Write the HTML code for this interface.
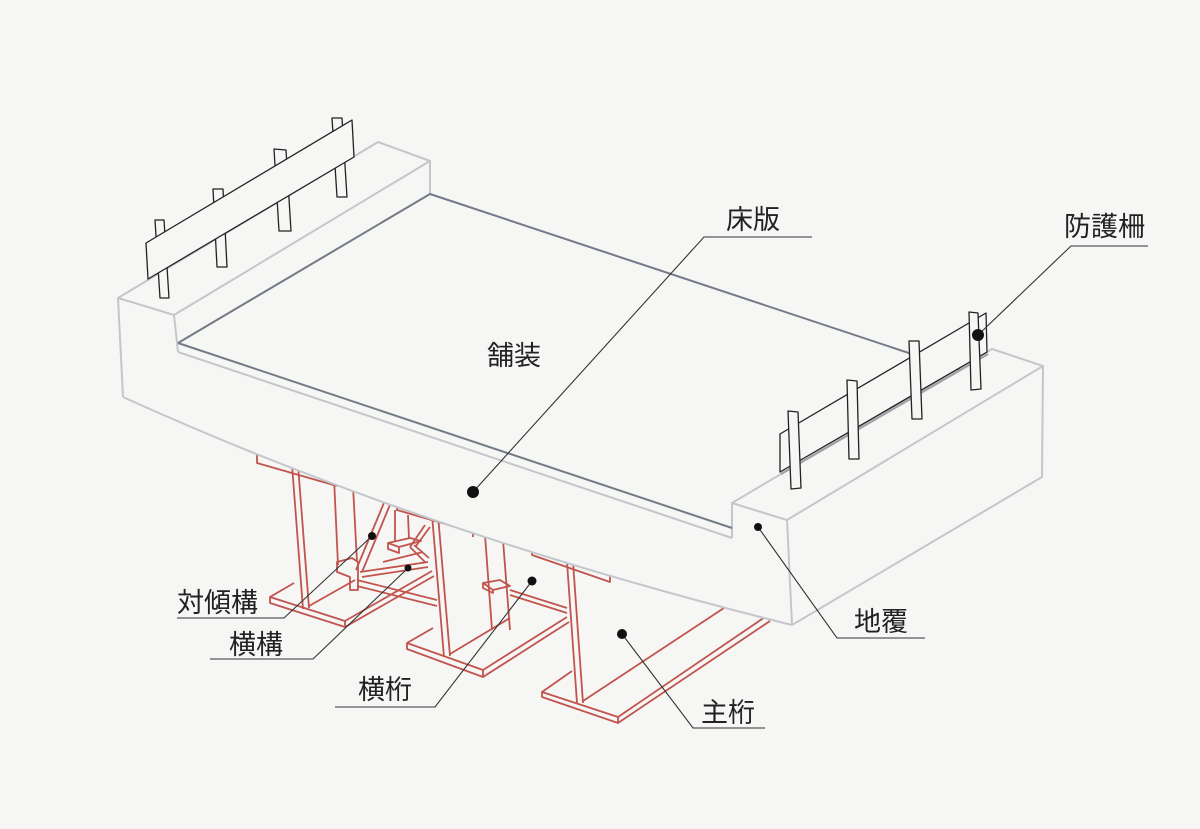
<!DOCTYPE html>
<html>
<head>
<meta charset="utf-8">
<style>
html,body{margin:0;padding:0;background:#f6f6f5;}
svg{display:block;}
text{font-family:"Liberation Sans","Noto Sans CJK JP",sans-serif;font-size:27px;fill:#222;}
</style>
</head>
<body>
<svg width="1200" height="829" viewBox="0 0 1200 829" xmlns="http://www.w3.org/2000/svg">
<rect width="1200" height="829" fill="#f6f6f5"/>

<!-- Red steel girders -->
<g fill="none" stroke="#c2544e" stroke-width="1.8" stroke-linejoin="round">
  <!-- G1 -->
  <path d="M257,452 L257,463 L337,486"/>
  <path d="M292,465 L303,609 M298,465 L309,608"/>
  <path d="M334,478 L338,565 M353,486 L357,562"/>
  <path d="M270,597 L345,621 L345,627 L270,603 Z"/>
  <path d="M270,597 L294,583"/>
  <path d="M345,621 L432,571 M345,627 L434,576"/>
  <path d="M309,606 L355,580"/>
  <path d="M337,562 L352,558 L358,562 L358,590 L350,590 L350,577 L337,572 Z"/>
  <!-- cross frame G1-G2 -->
  <path d="M386,498 L356,570 M392,500 L362,572"/>
  <path d="M357,580 L437,600 M357,586 L437,606"/>
  <path d="M360,572 L428,562 M362,577 L428,567"/>
  <path d="M383,562 L423,552"/>
  <path d="M410,547 L425,562 M414,545 L429,558"/>
  <path d="M395,510 L395,542 M408,515 L409,539"/>
  <path d="M388,543 L410,538 L421,541 L399,547 Z"/>
  <path d="M388,543 L388,549 L399,553 L399,547"/>
  <path d="M425,525 L410,547 M430,527 L416,546"/>
  <!-- G2 -->
  <path d="M397,500 L397,510 L473,532 L473,537"/>
  <path d="M432,515 L444,657 M438,515 L450,656"/>
  <path d="M485,535 L492,630 M503,540 L510,630"/>
  <path d="M483,583 L500,580 L510,586 L493,590 Z"/>
  <path d="M483,583 L483,588 L493,593 L493,590"/>
  <path d="M510,590 L567,608 M510,595 L567,613"/>
  <path d="M407,643 L483,670 L483,677 L407,649 Z"/>
  <path d="M407,643 L433,628"/>
  <path d="M483,670 L567,617 M483,677 L569,622"/>
  <path d="M450,654 L510,618"/>
  <!-- G3 -->
  <path d="M532,545 L532,555 L610,582 L610,575"/>
  <path d="M567,562 L577,703 M573,562 L583,703"/>
  <path d="M542,692 L618,717 L618,723 L542,697 Z"/>
  <path d="M542,692 L572,671"/>
  <path d="M618,717 L765,617 M618,723 L770,621"/>
  <path d="M583,701 L727,606"/>
</g>

<!-- Deck occlusion faces -->
<path d="M118,298 L174,315 L178,352 L732,538 L732,503 L787,520 L792,625 Q422,533 123,397 Z" fill="#f6f6f5" stroke="none"/>
<path d="M787,520 L1043,366 L1042,477 L792,625 Z" fill="#f6f6f5" stroke="none"/>

<!-- Deck lines (light gray) -->
<g fill="none" stroke="#c3c7cb" stroke-width="2" stroke-linejoin="round">
  <path d="M118,298 L378,142 L430,161 L174,315 Z"/>
  <path d="M118,298 L123,397"/>
  <path d="M174,315 L178,352"/>
  <path d="M430,161 L430,194"/>
  <path d="M123,397 Q422,533 792,625"/>
  <path d="M178,352 L732,538"/>
  <path d="M732,503 L732,538"/>
  <path d="M732,503 L787,520 L1043,366 L992,349 Z"/>
  <path d="M787,520 L792,625"/>
  <path d="M1043,366 L1042,477 L792,625"/>
</g>
<!-- Paving (dark gray) -->
<g fill="none" stroke="#737b86" stroke-width="2" stroke-linejoin="round">
  <path d="M178,343 L430,194 L960,370"/>
  <path d="M178,343 L732,528"/>
</g>

<!-- Left railing: posts behind panel -->
<g fill="#f6f6f5" stroke="#222" stroke-width="1.3" stroke-linejoin="round">
  <path d="M155,220 L164,220 L169,298 L160,298 Z"/>
  <path d="M213,189 L223,189 L227,267 L217,267 Z"/>
  <path d="M274,149 L286,150 L291,231 L279,231 Z"/>
  <path d="M332,118 L342,118 L347,197 L337,197 Z"/>
  <path d="M146,243 L352,120 L354,157 L148,279 Z"/>
</g>

<!-- Right railing: panel behind posts -->
<path d="M781,474 L988,354" stroke="#a0a4a8" stroke-width="2.2" fill="none"/>
<g fill="#f6f6f5" stroke="#222" stroke-width="1.3" stroke-linejoin="round">
  <path d="M780,434 L986,313 L987,352 L780,472 Z"/>
  <path d="M788,411 L798,412 L801,488 L791,489 Z"/>
  <path d="M847,380 L857,381 L859,459 L849,459 Z"/>
  <path d="M909,341 L919,341 L922,419 L912,419 Z"/>
  <path d="M969,312 L978,313 L981,389 L971,390 Z"/>
</g>

<!-- Leader lines -->
<g fill="none" stroke="#333" stroke-width="1.1">
  <path d="M978,335 L1071,246 L1148,246"/>
  <path d="M473,492 L704,237 L812,237"/>
  <path d="M758,527 L837,638 L925,638"/>
  <path d="M622,634 L693,728 L765,728"/>
  <path d="M532,581 L435,707 L335,707"/>
  <path d="M408,568 L313,659 L210,659"/>
  <path d="M372,536 L284,618 L177,618"/>
</g>
<g fill="#111">
  <circle cx="978" cy="335" r="6"/>
  <circle cx="473" cy="492" r="6"/>
  <circle cx="758" cy="527" r="4"/>
  <circle cx="622" cy="634" r="5"/>
  <circle cx="532" cy="581" r="4.5"/>
  <circle cx="408" cy="568" r="3.5"/>
  <circle cx="372" cy="536" r="4"/>
</g>

<!-- Labels -->
<text x="1064" y="236">防護柵</text>
<text x="726" y="229">床版</text>
<text x="487" y="365">舗装</text>
<text x="854" y="631">地覆</text>
<text x="701" y="722">主桁</text>
<text x="358" y="699">横桁</text>
<text x="229" y="654">横構</text>
<text x="177" y="612">対傾構</text>
</svg>
</body>
</html>
